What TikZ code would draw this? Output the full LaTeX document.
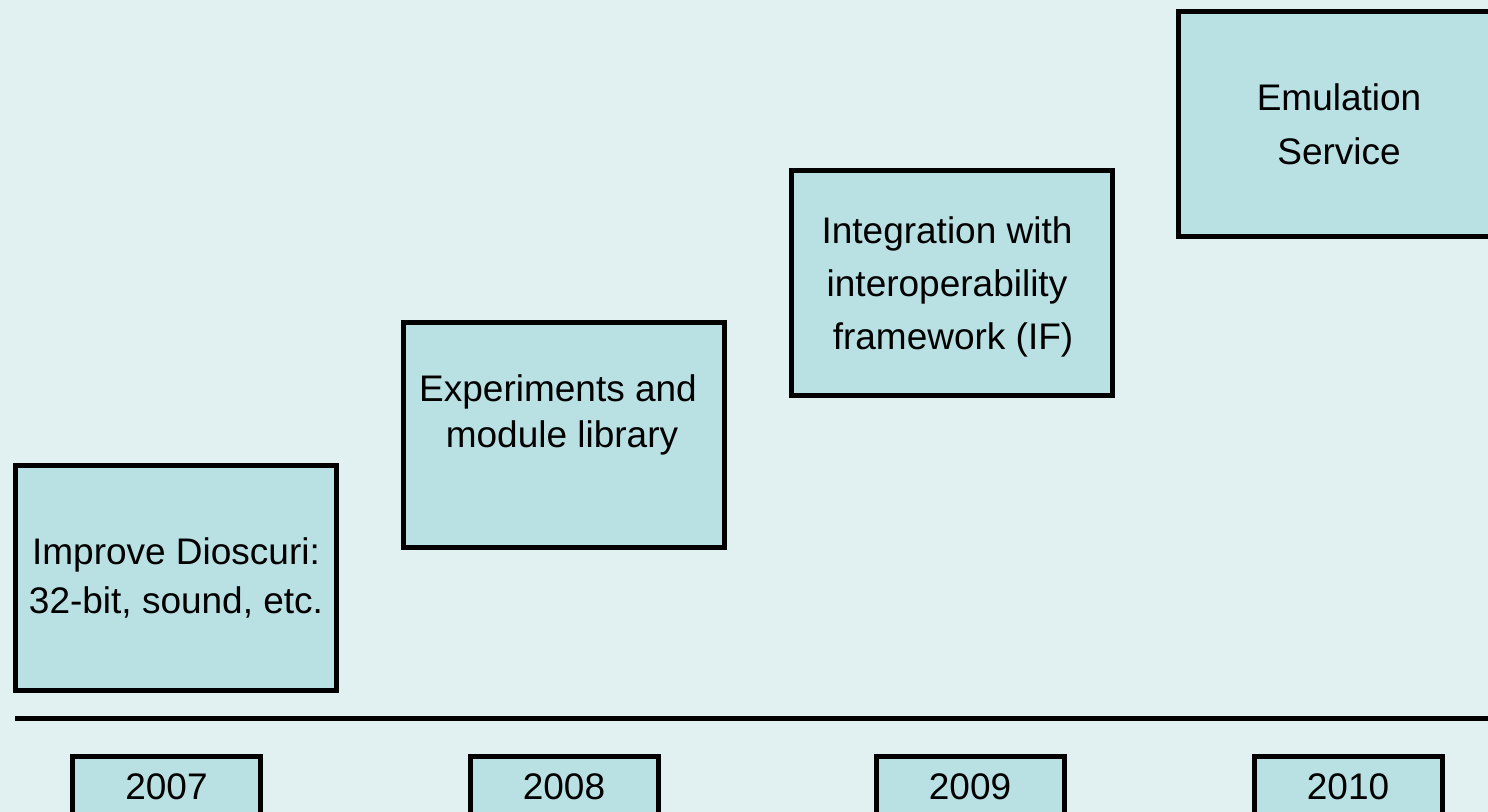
\documentclass[tikz,border=0pt]{standalone}
\usepackage{fontspec}
\setmainfont{Liberation Sans}
\definecolor{pagebg}{RGB}{225,240,241}
\definecolor{boxfill}{RGB}{185,224,227}
\newcommand{\boxfont}[1]{\fontsize{18.5pt}{#1}\selectfont}
\tikzset{
  phase/.style={draw=black, line width=2.5pt, fill=boxfill,
    minimum width=160.5pt, minimum height=112.5pt, inner sep=0pt,
    align=center, font=\boxfont{24.5pt}},
  label text/.style={align=center, inner sep=0pt, font=\boxfont{23pt}},
  yearbox/.style={draw=black, line width=2.5pt, fill=boxfill,
    minimum width=94pt, minimum height=30.5pt, inner sep=0pt,
    font=\boxfont{24.5pt}},
  timeline/.style={line width=2.5pt, black}
}
\begin{document}
\begin{tikzpicture}[x=0.5pt,y=-0.5pt]
  \fill[pagebg] (0,0) rectangle (1488,812);
  \useasboundingbox (0,0) rectangle (1488,812);
  \clip (0,0) rectangle (1488,812);

  % phase boxes, rising from left to right
  \node[phase] (p1) at (176,578) {Improve Dioscuri:\\32-bit, sound, etc.};
  \node[phase] (p2) at (563.5,435) {};
  \node[label text] (p2t) at (558,415) {Experiments and\\\hspace*{4pt}module library};
  \node[phase] (p3) at (951.5,283) {};
  \node[label text, font=\boxfont{26.5pt}] (p3t) at (947,287)
    {Integration with\\interoperability\\\hspace*{6pt}framework (IF)};
  \node[phase, font=\boxfont{27pt}] (p4) at (1339,124) {Emulation\\Service};

  % time axis
  \coordinate (axL) at (15,718);
  \coordinate (axR) at (1488,718);
  \draw[timeline] (axL) -- (axR);

  % year markers
  \node[yearbox] (y1) at (166.5,787) {2007};
  \node[yearbox] (y2) at (564,787) {2008};
  \node[yearbox] (y3) at (970,787) {2009};
  \node[yearbox] (y4) at (1348,787) {2010};
\end{tikzpicture}
\end{document}
